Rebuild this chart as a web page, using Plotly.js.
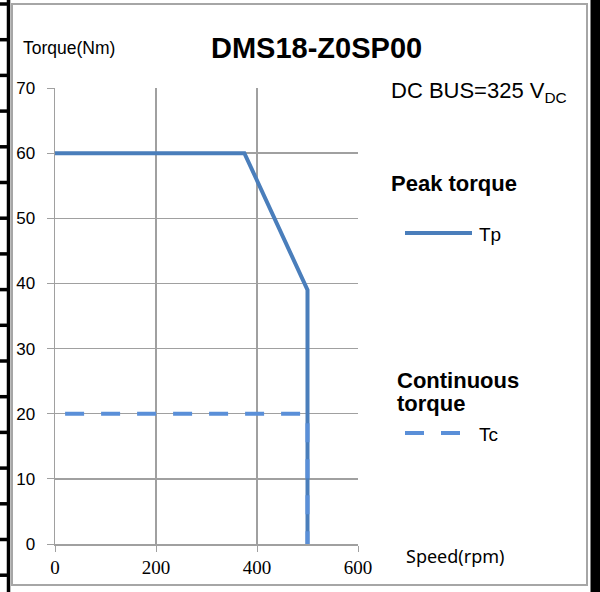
<!DOCTYPE html>
<html>
<head>
<meta charset="utf-8">
<script src="https://cdn.plot.ly/plotly-3.0.1.min.js"></script>
<style>
html,body{margin:0;padding:0;background:#fff;overflow:hidden;}
#chart{width:600px;height:592px;}
</style>
</head>
<body>
<div id="chart"></div>
<script>
// Data
const tpSpeed = [0, 375, 500, 500];
const tpTorque = [60, 60, 39, 0];
const tcSpeed = [20, 500, 500];
const tcTorque = [20, 20, 0];
const xTicks = [0, 200, 400, 600];
const yTicks = [0, 10, 20, 30, 40, 50, 60, 70];

// plot area in pixels
const L = 55, R = 358, T = 88, B = 544;
const px = v => (v - L) / (R - L);
const py = v => (B - v) / (B - T);

const shapes = [];
// gray outer frame
shapes.push({type:'rect', xref:'paper', yref:'paper', x0:px(12), x1:px(587), y0:py(4), y1:py(585),
  line:{color:'#a6a6a6', width:2}, fillcolor:'rgba(0,0,0,0)', layer:'below'});
// left black bar
shapes.push({type:'line', xref:'paper', yref:'paper', x0:px(8.5), x1:px(8.5), y0:py(-2), y1:py(594),
  line:{color:'#000', width:3.5}});
// right black bar
shapes.push({type:'rect', xref:'paper', yref:'paper', x0:px(591), x1:px(602),
  y0:py(594), y1:py(-2), line:{color:'#000', width:1}, fillcolor:'#000', layer:'above'});
// left black tick marks
for (let k = 0; k < 17; k++) {
  const yy = 4 + k * 35.7;
  shapes.push({type:'line', xref:'paper', yref:'paper', x0:px(-1), x1:px(8.5), y0:py(yy), y1:py(yy),
    line:{color:'#000', width:3.5}});
}
// legend samples
shapes.push({type:'line', xref:'paper', yref:'paper', x0:px(405), x1:px(472), y0:py(233), y1:py(233),
  line:{color:'#4a7ebb', width:4}});
shapes.push({type:'line', xref:'paper', yref:'paper', x0:px(405), x1:px(424), y0:py(433), y1:py(433),
  line:{color:'#5a8fd8', width:4}});
shapes.push({type:'line', xref:'paper', yref:'paper', x0:px(441), x1:px(460), y0:py(433), y1:py(433),
  line:{color:'#5a8fd8', width:4}});

const F = 'Liberation Sans, Arial, sans-serif';
const ann = (text, x, y, size, fam, anchor) => ({text:text, x:px(x), y:py(y), xref:'paper', yref:'paper',
  showarrow:false, xanchor:anchor || 'left', yanchor:'middle', font:{family:fam || F, size:size, color:'#000'}});
const annotations = [
  ann('<b>DMS18-Z0SP00</b>', 316, 48, 29, F, 'center'),
  ann('Torque(Nm)', 21, 48, 17.5),
  ann('DC BUS=325 V<sub>DC</sub>', 389, 92, 22),
  ann('<b>Peak torque</b>', 389, 183, 22),
  ann('Tp', 477, 234, 19),
  ann('<b>Continuous</b>', 395, 380, 22),
  ann('<b>torque</b>', 395, 403, 22),
  ann('Tc', 477, 434, 19),
  ann('Speed(rpm)', 404, 556, 18, 'Noto Sans, sans-serif')
];

const traces = [
  {x:tpSpeed, y:tpTorque, type:'scatter', mode:'lines', name:'Tp',
    line:{color:'#4a7ebb', width:4}, hoverinfo:'skip'},
  {x:tcSpeed, y:tcTorque, type:'scatter', mode:'lines', name:'Tc',
    line:{color:'#5a8fd8', width:4, dash:'19px,17px'}, hoverinfo:'skip'}
];

const layout = {
  width:600, height:592,
  margin:{l:L, r:600-R, t:T, b:592-B, pad:0},
  paper_bgcolor:'#fff', plot_bgcolor:'#fff',
  showlegend:false,
  xaxis:{range:[0,600], tickvals:xTicks, ticktext:xTicks.map(String), showgrid:true, gridcolor:'#a0a0a0', gridwidth:1.5,
    zeroline:false, showline:true, linecolor:'#a0a0a0', linewidth:1.5, ticks:'outside', ticklen:6, tickcolor:'#a0a0a0',
    tickfont:{family:'Liberation Serif, Times New Roman, serif', size:19, color:'#000'}, fixedrange:true},
  yaxis:{range:[0,70], tickvals:yTicks, ticktext:yTicks.map(String), showgrid:true, gridcolor:'#a0a0a0', gridwidth:1.5,
    zeroline:false, showline:true, linecolor:'#a0a0a0', linewidth:1.5, ticks:'outside', ticklen:7, tickcolor:'#a0a0a0',
    tickfont:{family:F, size:17, color:'#000'}, ticklabelstandoff:8, fixedrange:true},
  shapes:shapes,
  annotations:annotations
};

Plotly.newPlot('chart', traces, layout, {displayModeBar:false, staticPlot:true});
</script>
</body>
</html>
